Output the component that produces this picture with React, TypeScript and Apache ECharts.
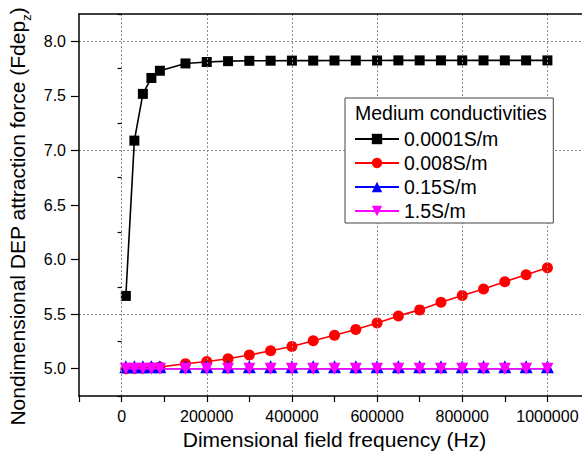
import React, { useEffect, useRef } from "react";
import * as echarts from "echarts";

const frequencies = [
  10000, 30000, 50000, 70000, 90000, 150000, 200000, 250000, 300000, 350000, 400000, 450000,
  500000, 550000, 600000, 650000, 700000, 750000, 800000, 850000, 900000, 950000, 1000000,
];
const seriesNames = ["0.0001S/m", "0.008S/m", "0.15S/m", "1.5S/m"];
const force00001 = [
  5.667, 7.09, 7.518, 7.664, 7.73, 7.797, 7.81, 7.818, 7.821, 7.822, 7.823, 7.823, 7.824, 7.824,
  7.824, 7.825, 7.825, 7.825, 7.825, 7.825, 7.825, 7.825, 7.825,
];
const force0008 = [
  5.0, 5.002, 5.005, 5.01, 5.016, 5.046, 5.066, 5.092, 5.125, 5.164, 5.204, 5.256, 5.307, 5.36,
  5.418, 5.484, 5.539, 5.609, 5.67, 5.73, 5.797, 5.861, 5.925,
];
const force015 = [
  5.0, 5.0, 5.0, 5.0, 5.0, 5.0, 5.0, 5.0, 5.0, 5.0, 5.0, 5.0, 5.0, 5.0, 5.0, 5.0, 5.0, 5.0, 5.0,
  5.0, 5.0, 5.0, 5.0,
];
const force15 = [
  5.0, 5.0, 5.0, 5.0, 5.0, 5.0, 5.0, 5.0, 5.0, 5.0, 5.0, 5.0, 5.0, 5.0, 5.0, 5.0, 5.0, 5.0, 5.0,
  5.0, 5.0, 5.0, 5.0,
];
const yMajorTicks = [5.0, 5.5, 6.0, 6.5, 7.0, 7.5, 8.0];
const yMinorTicks = [4.75, 5.25, 5.75, 6.25, 6.75, 7.25, 7.75, 8.25];
const xLabelTicks = [0, 200000, 400000, 600000, 800000, 1000000];
const yGridValues = [5.5, 7.0, 8.0];

const X_MIN = -100000;
const X_MAX = 1100000;
const Y_MIN = 4.75;
const Y_MAX = 8.25;

const FONT = '"Liberation Sans", Arial, sans-serif';

export default function App() {
  const ref = useRef<HTMLDivElement>(null);
  useEffect(() => {
    if (!ref.current) return;
    const chart = echarts.init(ref.current, null, { renderer: "svg" });
    const pair = (vals: number[]) => frequencies.map((f, i) => [f, vals[i]]);
    const gridLine = { show: true, lineStyle: { color: "#8a8a8a", width: 1, type: [2, 2] } };
    const option: any = {
      animation: false,
      backgroundColor: "#fff",
      textStyle: { fontFamily: FONT },
      grid: {
        left: 79,
        top: 14,
        right: -8,
        bottom: 57,
        containLabel: false,
        outerBoundsMode: "none",
      },
      xAxis: [
        {
          type: "value",
          min: X_MIN,
          max: X_MAX,
          interval: 100000,
          position: "bottom",
          z: 5,
          name: "Dimensional field frequency (Hz)",
          nameLocation: "middle",
          nameGap: 30,
          nameTextStyle: { fontFamily: FONT, fontSize: 21, color: "#000" },
          axisLine: { show: true, onZero: false, lineStyle: { color: "#000", width: 1.5 } },
          axisTick: { show: true, inside: false, length: 6, lineStyle: { color: "#000", width: 1.2 } },
          axisLabel: {
            margin: 12,
            fontFamily: FONT,
            fontSize: 16,
            color: "#000",
            customValues: xLabelTicks,
            formatter: (v: number) => String(v),
          },
          splitLine: { show: false },
        },
        {
          type: "value",
          min: X_MIN,
          max: X_MAX,
          position: "top",
          z: 5,
          axisLine: { show: true, onZero: false, lineStyle: { color: "#000", width: 1.5 } },
          axisTick: { show: false, customValues: xLabelTicks },
          axisLabel: { show: false, customValues: xLabelTicks },
          splitLine: gridLine,
        },
      ],
      yAxis: [
        {
          type: "value",
          min: Y_MIN,
          max: Y_MAX,
          position: "left",
          z: 5,
          name: "Nondimensional DEP attraction force (Fdep{sub|z})",
          nameLocation: "middle",
          nameGap: 46,
          nameTextStyle: {
            fontFamily: FONT,
            fontSize: 21,
            lineHeight: 30,
            color: "#000",
            padding: [0, 0, 0, -23],
            rich: {
              sub: { fontFamily: FONT, fontSize: 13, lineHeight: 13, verticalAlign: "bottom", color: "#000" },
            },
          },
          axisLine: { show: true, onZero: false, lineStyle: { color: "#000", width: 1.5 } },
          axisTick: {
            show: true,
            inside: false,
            length: 8,
            customValues: yMajorTicks,
            lineStyle: { color: "#000", width: 1.2 },
          },
          axisLabel: {
            margin: 13,
            fontFamily: FONT,
            fontSize: 16,
            color: "#000",
            customValues: yMajorTicks,
            formatter: (v: number) => v.toFixed(1),
          },
          splitLine: { show: false },
        },
        {
          type: "value",
          min: Y_MIN,
          max: Y_MAX,
          position: "left",
          z: 5,
          axisLine: { show: false },
          axisTick: {
            show: true,
            inside: false,
            length: 4,
            customValues: yMinorTicks,
            lineStyle: { color: "#000", width: 1.2 },
          },
          axisLabel: { show: false },
          splitLine: { show: false },
        },
        {
          type: "value",
          min: Y_MIN,
          max: Y_MAX,
          position: "right",
          axisLine: { show: false },
          axisTick: { show: false, customValues: yGridValues },
          axisLabel: { show: false, customValues: yGridValues },
          splitLine: gridLine,
        },
      ],
      legend: {
        show: true,
        data: seriesNames,
        orient: "vertical",
        left: 345,
        top: 98,
        padding: [31, 55, 2, 9],
        itemWidth: 44,
        itemHeight: 13,
        itemGap: 4,
        backgroundColor: "#fff",
        borderColor: "#444",
        borderWidth: 1,
        borderRadius: 0,
        z: 10,
        textStyle: { fontFamily: FONT, fontSize: 19.5, lineHeight: 20, color: "#000" },
      },
      graphic: [
        {
          type: "text",
          left: 355,
          top: 103,
          z: 100,
          style: {
            text: "Medium conductivities",
            fontFamily: FONT,
            fontSize: 19.5,
            fill: "#000",
          },
        },
      ],
      series: [
        {
          name: seriesNames[0],
          type: "line",
          z: 3,
          data: pair(force00001),
          symbol: "rect",
          symbolSize: 10,
          color: "#000",
          lineStyle: { color: "#000", width: 1.6 },
          itemStyle: { color: "#000" },
        },
        {
          name: seriesNames[1],
          type: "line",
          z: 3,
          data: pair(force0008),
          symbol: "circle",
          symbolSize: 11,
          color: "#ff0000",
          lineStyle: { color: "#ff0000", width: 1.6 },
          itemStyle: { color: "#ff0000" },
        },
        {
          name: seriesNames[2],
          type: "line",
          z: 4,
          data: pair(force015),
          symbol: "triangle",
          symbolSize: 13,
          symbolOffset: [0, -2],
          color: "#0000ff",
          lineStyle: { color: "#0000ff", width: 1.6 },
          itemStyle: { color: "#0000ff" },
        },
        {
          name: seriesNames[3],
          type: "line",
          z: 5,
          data: pair(force15),
          symbol: "triangle",
          symbolRotate: 180,
          symbolSize: 12,
          color: "#ff00ff",
          lineStyle: { color: "#ff00ff", width: 1.6 },
          itemStyle: { color: "#ff00ff" },
        },
      ],
    };
    chart.setOption(option);
    return () => chart.dispose();
  }, []);
  return (
    <div
      ref={ref}
      style={{ position: "fixed", left: 0, top: 0, width: 582, height: 453, background: "#fff" }}
    />
  );
}
